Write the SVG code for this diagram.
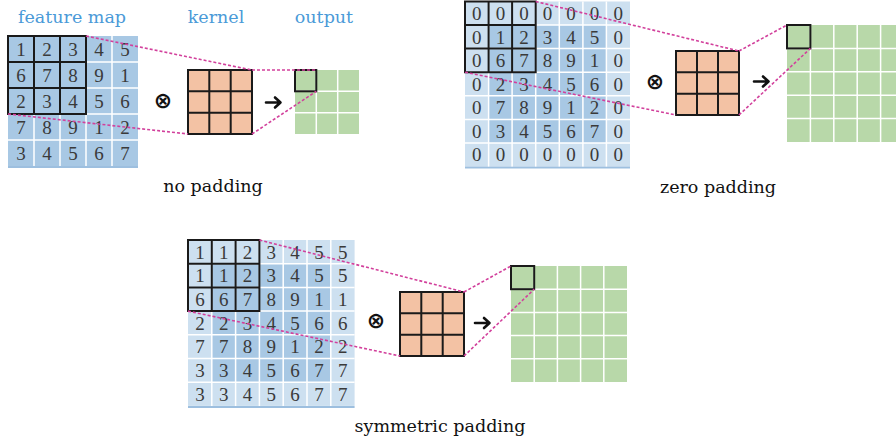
<svg xmlns="http://www.w3.org/2000/svg" width="896" height="443" viewBox="0 0 896 443">
  <style>
    .bg { fill: #ffffff; }
    .fm { fill: #a8c8e4; }
    .pad { fill: #cde0f0; }
    .kern { fill: #f3c2a4; }
    .out { fill: #b8d8a9; }
    .wline { stroke: #ffffff; stroke-width: 1.5; fill: none; }
    .kline { stroke: #1a1a1a; stroke-width: 2; fill: none; }
    .win { stroke: #1a1a1a; stroke-width: 2; fill: none; }
    .shadow { stroke: #9dbfdf; stroke-width: 2; }
    .num { font-family: "Liberation Serif", "DejaVu Serif", serif; font-size: 19px; fill: #3a3a3a; text-anchor: middle; }
    .title { font-family: "DejaVu Serif", "Liberation Serif", serif; font-size: 17.5px; fill: #4a9ad8; text-anchor: middle; }
    .caption { font-family: "DejaVu Serif", "Liberation Serif", serif; font-size: 17.5px; fill: #111111; text-anchor: middle; }
    .op { font-family: "DejaVu Sans", sans-serif; font-size: 22px; font-weight: bold; fill: #111111; text-anchor: middle; }
    .dash { stroke: #d2409c; stroke-width: 1.6; stroke-dasharray: 3 2; fill: none; }
    .arrow { stroke: #111111; stroke-width: 2.6; fill: none; stroke-linecap: round; stroke-linejoin: round; }
  </style>

  <rect class="bg" x="0" y="0" width="896" height="443"/>

  <!-- ===== no padding ===== -->
  <g id="np-labels">
    <text class="title" x="72" y="23">feature map</text>
    <text class="title" x="216" y="23">kernel</text>
    <text class="title" x="324" y="23">output</text>
    <text class="caption" x="213" y="192">no padding</text>
  </g>

  <g id="np-feature-map">
    <rect class="fm" x="8" y="36" width="130" height="130"/>
    <line class="shadow" x1="8" y1="167" x2="138" y2="167"/>
    <path class="wline" d="M34 36V166M60 36V166M86 36V166M112 36V166M8 62H138M8 88H138M8 114H138M8 140H138"/>
    <path class="kline" d="M8 36H86V114H8Z M34 36V114 M60 36V114 M8 62H86 M8 88H86"/>
    <g class="num">
      <text x="21" y="55.5">1</text><text x="47" y="55.5">2</text><text x="73" y="55.5">3</text><text x="99" y="55.5">4</text><text x="125" y="55.5">5</text>
      <text x="21" y="81.5">6</text><text x="47" y="81.5">7</text><text x="73" y="81.5">8</text><text x="99" y="81.5">9</text><text x="125" y="81.5">1</text>
      <text x="21" y="107.5">2</text><text x="47" y="107.5">3</text><text x="73" y="107.5">4</text><text x="99" y="107.5">5</text><text x="125" y="107.5">6</text>
      <text x="21" y="133.5">7</text><text x="47" y="133.5">8</text><text x="73" y="133.5">9</text><text x="99" y="133.5">1</text><text x="125" y="133.5">2</text>
      <text x="21" y="159.5">3</text><text x="47" y="159.5">4</text><text x="73" y="159.5">5</text><text x="99" y="159.5">6</text><text x="125" y="159.5">7</text>
    </g>
  </g>

  <g id="np-op">
    <text class="op" x="163" y="108">⊗</text>
  </g>

  <g id="np-kernel">
    <rect class="kern" x="188" y="70" width="64" height="64"/>
    <path class="kline" d="M188 70H252V134H188Z M209.3 70V134 M230.7 70V134 M188 91.3H252 M188 112.7H252"/>
  </g>

  <g id="np-arrow">
    <path class="arrow" d="M266 102.5H280 M275 97.5L280.5 102.5L275 107.5"/>
  </g>

  <g id="np-output">
    <rect class="out" x="295" y="70" width="64" height="64"/>
    <path class="wline" d="M316.3 70V134M337.7 70V134M295 91.3H359M295 112.7H359"/>
    <rect class="win" x="295" y="70" width="21.3" height="21.3"/>
  </g>

  <!-- ===== zero padding ===== -->
  <g id="zp-labels">
    <text class="caption" x="718" y="193">zero padding</text>
  </g>

  <g id="zp-feature-map">
    <rect class="pad" x="465" y="1.5" width="165" height="165"/>
    <rect class="fm" x="488.6" y="25.1" width="117.9" height="117.9"/>
    <line class="shadow" x1="465" y1="167.5" x2="630" y2="167.5"/>
    <path class="wline" d="M488.6 1.5V166.5M512.1 1.5V166.5M535.7 1.5V166.5M559.3 1.5V166.5M582.9 1.5V166.5M606.4 1.5V166.5M465 25.1H630M465 48.6H630M465 72.2H630M465 95.8H630M465 119.4H630M465 142.9H630"/>
    <path class="kline" d="M465 1.5H535.7V72.2H465Z M488.6 1.5V72.2 M512.1 1.5V72.2 M465 25.1H535.7 M465 48.6H535.7"/>
    <g class="num">
      <text x="476.8" y="20">0</text><text x="500.4" y="20">0</text><text x="523.9" y="20">0</text><text x="547.5" y="20">0</text><text x="571.1" y="20">0</text><text x="594.6" y="20">0</text><text x="618.2" y="20">0</text>
      <text x="476.8" y="43.6">0</text><text x="500.4" y="43.6">1</text><text x="523.9" y="43.6">2</text><text x="547.5" y="43.6">3</text><text x="571.1" y="43.6">4</text><text x="594.6" y="43.6">5</text><text x="618.2" y="43.6">0</text>
      <text x="476.8" y="67.1">0</text><text x="500.4" y="67.1">6</text><text x="523.9" y="67.1">7</text><text x="547.5" y="67.1">8</text><text x="571.1" y="67.1">9</text><text x="594.6" y="67.1">1</text><text x="618.2" y="67.1">0</text>
      <text x="476.8" y="90.7">0</text><text x="500.4" y="90.7">2</text><text x="523.9" y="90.7">3</text><text x="547.5" y="90.7">4</text><text x="571.1" y="90.7">5</text><text x="594.6" y="90.7">6</text><text x="618.2" y="90.7">0</text>
      <text x="476.8" y="114.3">0</text><text x="500.4" y="114.3">7</text><text x="523.9" y="114.3">8</text><text x="547.5" y="114.3">9</text><text x="571.1" y="114.3">1</text><text x="594.6" y="114.3">2</text><text x="618.2" y="114.3">0</text>
      <text x="476.8" y="137.9">0</text><text x="500.4" y="137.9">3</text><text x="523.9" y="137.9">4</text><text x="547.5" y="137.9">5</text><text x="571.1" y="137.9">6</text><text x="594.6" y="137.9">7</text><text x="618.2" y="137.9">0</text>
      <text x="476.8" y="161.4">0</text><text x="500.4" y="161.4">0</text><text x="523.9" y="161.4">0</text><text x="547.5" y="161.4">0</text><text x="571.1" y="161.4">0</text><text x="594.6" y="161.4">0</text><text x="618.2" y="161.4">0</text>
    </g>
  </g>

  <g id="zp-op">
    <text class="op" x="655" y="89">⊗</text>
  </g>

  <g id="zp-kernel">
    <rect class="kern" x="676" y="51" width="63" height="64"/>
    <path class="kline" d="M676 51H739V115H676Z M697 51V115 M718 51V115 M676 72.3H739 M676 93.7H739"/>
  </g>

  <g id="zp-arrow">
    <path class="arrow" d="M754 81.5H768 M763 76.5L768.5 81.5L763 86.5"/>
  </g>

  <g id="zp-output">
    <rect class="out" x="787" y="25" width="117" height="117"/>
    <path class="wline" d="M810.4 25V142M833.8 25V142M857.2 25V142M880.6 25V142M787 48.4H904M787 71.8H904M787 95.2H904M787 118.6H904"/>
    <rect class="win" x="787" y="25" width="23.4" height="23.4"/>
  </g>

  <!-- ===== symmetric padding ===== -->
  <g id="sp-labels">
    <text class="caption" x="440" y="432">symmetric padding</text>
  </g>

  <g id="sp-feature-map">
    <rect class="pad" x="188" y="240" width="166.6" height="165.9"/>
    <rect class="fm" x="211.8" y="263.7" width="119" height="118.5"/>
    <line class="shadow" x1="188" y1="407" x2="354.6" y2="407"/>
    <path class="wline" d="M211.8 240V405.9M235.6 240V405.9M259.4 240V405.9M283.2 240V405.9M307 240V405.9M330.8 240V405.9M188 263.7H354.6M188 287.4H354.6M188 311.1H354.6M188 334.8H354.6M188 358.5H354.6M188 382.2H354.6"/>
    <path class="kline" d="M188 240H259.4V311.1H188Z M211.8 240V311.1 M235.6 240V311.1 M188 263.7H259.4 M188 287.4H259.4"/>
    <g class="num">
      <text x="199.9" y="258.5">1</text><text x="223.7" y="258.5">1</text><text x="247.5" y="258.5">2</text><text x="271.3" y="258.5">3</text><text x="295.1" y="258.5">4</text><text x="318.9" y="258.5">5</text><text x="342.7" y="258.5">5</text>
      <text x="199.9" y="282.2">1</text><text x="223.7" y="282.2">1</text><text x="247.5" y="282.2">2</text><text x="271.3" y="282.2">3</text><text x="295.1" y="282.2">4</text><text x="318.9" y="282.2">5</text><text x="342.7" y="282.2">5</text>
      <text x="199.9" y="305.9">6</text><text x="223.7" y="305.9">6</text><text x="247.5" y="305.9">7</text><text x="271.3" y="305.9">8</text><text x="295.1" y="305.9">9</text><text x="318.9" y="305.9">1</text><text x="342.7" y="305.9">1</text>
      <text x="199.9" y="329.6">2</text><text x="223.7" y="329.6">2</text><text x="247.5" y="329.6">3</text><text x="271.3" y="329.6">4</text><text x="295.1" y="329.6">5</text><text x="318.9" y="329.6">6</text><text x="342.7" y="329.6">6</text>
      <text x="199.9" y="353.3">7</text><text x="223.7" y="353.3">7</text><text x="247.5" y="353.3">8</text><text x="271.3" y="353.3">9</text><text x="295.1" y="353.3">1</text><text x="318.9" y="353.3">2</text><text x="342.7" y="353.3">2</text>
      <text x="199.9" y="377">3</text><text x="223.7" y="377">3</text><text x="247.5" y="377">4</text><text x="271.3" y="377">5</text><text x="295.1" y="377">6</text><text x="318.9" y="377">7</text><text x="342.7" y="377">7</text>
      <text x="199.9" y="400.7">3</text><text x="223.7" y="400.7">3</text><text x="247.5" y="400.7">4</text><text x="271.3" y="400.7">5</text><text x="295.1" y="400.7">6</text><text x="318.9" y="400.7">7</text><text x="342.7" y="400.7">7</text>
    </g>
  </g>

  <g id="sp-op">
    <text class="op" x="376" y="328">⊗</text>
  </g>

  <g id="sp-kernel">
    <rect class="kern" x="400" y="292" width="64" height="64"/>
    <path class="kline" d="M400 292H464V356H400Z M421.3 292V356 M442.7 292V356 M400 313.3H464 M400 334.7H464"/>
  </g>

  <g id="sp-arrow">
    <path class="arrow" d="M475 323H489 M484 318L489.5 323L484 328"/>
  </g>

  <g id="sp-output">
    <rect class="out" x="511" y="266" width="116" height="116"/>
    <path class="wline" d="M534.2 266V382M557.4 266V382M580.6 266V382M603.8 266V382M511 289.2H627M511 312.4H627M511 335.6H627M511 358.8H627"/>
    <rect class="win" x="511" y="266" width="23.2" height="23.2"/>
  </g>

  <!-- receptive-field projection lines -->
  <g id="connectors">
    <line class="dash" x1="86" y1="36" x2="252" y2="70"/>
    <line class="dash" x1="8" y1="114" x2="188" y2="134"/>
    <line class="dash" x1="252" y1="70" x2="316.3" y2="70"/>
    <line class="dash" x1="252" y1="134" x2="316.3" y2="91.3"/>

    <line class="dash" x1="535.7" y1="1.5" x2="739" y2="51"/>
    <line class="dash" x1="465" y1="72.2" x2="676" y2="115"/>
    <line class="dash" x1="739" y1="51" x2="787" y2="25"/>
    <line class="dash" x1="739" y1="115" x2="810.4" y2="48.4"/>

    <line class="dash" x1="259.4" y1="240" x2="464" y2="292"/>
    <line class="dash" x1="188" y1="311.1" x2="400" y2="356"/>
    <line class="dash" x1="464" y1="292" x2="511" y2="266"/>
    <line class="dash" x1="464" y1="356" x2="534.2" y2="289.2"/>
  </g>
</svg>
